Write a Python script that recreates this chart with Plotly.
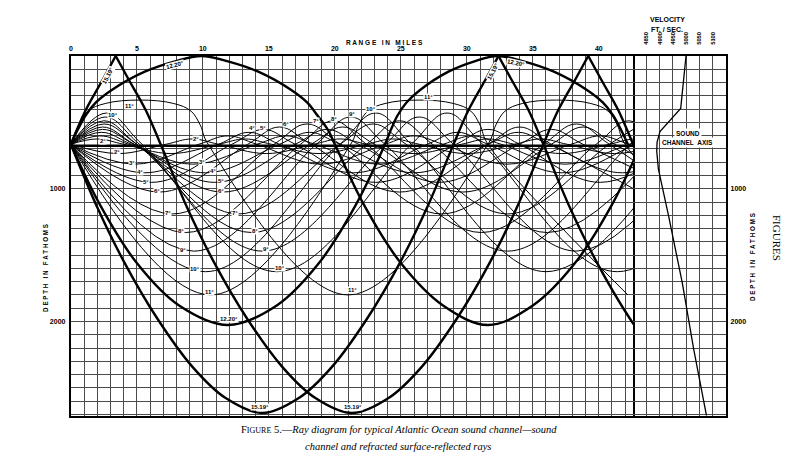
import plotly.graph_objects as go

# ---------------- data ----------------
source_depth = 665          # fathoms
axis_depth = 676            # sound channel axis (0 deg ray)
range_max = 42.6            # miles shown
depth_max = 2710            # fathoms shown

# velocity profile (right panel)
vel_depth = [0, 395, 570, 650, 720, 850, 1210, 1710, 2210, 2710]
vel_speed = [4999, 4979, 4901, 4890, 4889, 4895, 4934, 4985, 5028, 5076]

# refracted rays: turning points and axis crossings (range miles, depth fathoms)
r02_up_range = [0, 2.0, 4.0, 7.6, 11.2, 13.2, 15.2, 18.8, 22.4, 24.4, 26.4, 30.0, 33.6, 35.6, 37.6, 41.2, 44.8]
r02_up_depth = [665, 625, 665, 735, 665, 625, 665, 735, 665, 625, 665, 735, 665, 625, 665, 735, 665]
r02_dn_range = [0, 3.6, 7.2, 9.2, 11.2, 14.8, 18.4, 20.4, 22.4, 26.0, 29.6, 31.6, 33.6, 37.2, 40.8, 42.8, 44.8]
r02_dn_depth = [665, 735, 665, 625, 665, 735, 665, 625, 665, 735, 665, 625, 665, 735, 665, 625, 665]

r03_up_range = [0, 2.2, 4.4, 9.25, 14.1, 16.3, 18.5, 23.35, 28.2, 30.4, 32.6, 37.45, 42.3, 44.5]
r03_up_depth = [665, 602, 665, 815, 665, 602, 665, 815, 665, 602, 665, 815, 665, 602]
r03_dn_range = [0, 4.85, 9.7, 11.9, 14.1, 18.95, 23.8, 26.0, 28.2, 33.05, 37.9, 40.1, 42.3, 47.15]
r03_dn_depth = [665, 815, 665, 602, 665, 815, 665, 602, 665, 815, 665, 602, 665, 815]

r04_up_range = [0, 2.3, 4.6, 10.2, 15.8, 18.1, 20.4, 26.0, 31.6, 33.9, 36.2, 41.8, 47.4]
r04_up_depth = [665, 575, 665, 880, 665, 575, 665, 880, 665, 575, 665, 880, 665]
r04_dn_range = [0, 5.6, 11.2, 13.5, 15.8, 21.4, 27.0, 29.3, 31.6, 37.2, 42.8, 45.1]
r04_dn_depth = [665, 880, 665, 575, 665, 880, 665, 575, 665, 880, 665, 575]

r05_up_range = [0, 2.4, 4.8, 10.9, 17.0, 19.4, 21.8, 27.9, 34.0, 36.4, 38.8, 44.9]
r05_up_depth = [665, 553, 665, 952, 665, 553, 665, 952, 665, 553, 665, 952]
r05_dn_range = [0, 6.1, 12.2, 14.6, 17.0, 23.1, 29.2, 31.6, 34.0, 40.1, 46.2]
r05_dn_depth = [665, 952, 665, 553, 665, 952, 665, 553, 665, 952, 665]

r06_up_range = [0, 2.4, 4.8, 11.5, 18.2, 20.6, 23.0, 29.7, 36.4, 38.8, 41.2, 47.9]
r06_up_depth = [665, 535, 665, 1025, 665, 535, 665, 1025, 665, 535, 665, 1025]
r06_dn_range = [0, 6.7, 13.4, 15.8, 18.2, 24.9, 31.6, 34.0, 36.4, 43.1]
r06_dn_depth = [665, 1025, 665, 535, 665, 1025, 665, 535, 665, 1025]

r07_up_range = [0, 2.5, 5.0, 12.7, 20.4, 22.9, 25.4, 33.1, 40.8, 43.3]
r07_up_depth = [665, 512, 665, 1190, 665, 512, 665, 1190, 665, 512]
r07_dn_range = [0, 7.7, 15.4, 17.9, 20.4, 28.1, 35.8, 38.3, 40.8, 48.5]
r07_dn_depth = [665, 1190, 665, 512, 665, 1190, 665, 512, 665, 1190]

r08_up_range = [0, 2.5, 5.0, 13.7, 22.4, 24.9, 27.4, 36.1, 44.8]
r08_up_depth = [665, 488, 665, 1330, 665, 488, 665, 1330, 665]
r08_dn_range = [0, 8.7, 17.4, 19.9, 22.4, 31.1, 39.8, 42.3, 44.8]
r08_dn_depth = [665, 1330, 665, 488, 665, 1330, 665, 488, 665]

r09_up_range = [0, 2.6, 5.2, 14.5, 23.8, 26.4, 29.0, 38.3, 47.6]
r09_up_depth = [665, 460, 665, 1470, 665, 460, 665, 1470, 665]
r09_dn_range = [0, 9.3, 18.6, 21.2, 23.8, 33.1, 42.4, 45.0]
r09_dn_depth = [665, 1470, 665, 460, 665, 1470, 665, 460]

r10_up_range = [0, 2.7, 5.4, 15.6, 25.8, 28.5, 31.2, 41.4, 51.6]
r10_up_depth = [665, 430, 665, 1625, 665, 430, 665, 1625, 665]
r10_dn_range = [0, 10.2, 20.4, 23.1, 25.8, 36.0, 46.2]
r10_dn_depth = [665, 1625, 665, 430, 665, 1625, 665]

r11_up_range = [0, 0.6, 1.3, 2.6, 5.2, 7.8, 9.1, 9.8, 10.4, 21.0, 31.6, 32.2, 32.9, 34.2, 36.8, 39.4, 40.7, 41.4, 42.0, 52.6]
r11_up_depth = [665, 520, 415, 358, 332, 358, 415, 520, 665, 1800, 665, 520, 415, 358, 332, 358, 415, 520, 665, 1800]
r11_dn_range = [0, 10.6, 21.2, 21.8, 22.5, 23.8, 26.4, 29.0, 30.3, 31.0, 31.6, 42.2]
r11_dn_depth = [665, 1800, 665, 520, 415, 358, 332, 358, 415, 520, 665, 1800]

# limiting ray 12.20 deg (grazes the surface)
r1220_up_range = [0, 0.5, 1.1, 1.9, 3.1, 5.6, 7.9, 9.9, 11.9, 14.2, 16.7, 17.9, 18.7, 19.5, 20.0,
                  22.2, 25.0, 28.2, 31.6, 35.0, 38.2, 41.0, 43.2]
r1220_up_depth = [665, 560, 450, 350, 256, 118, 40, 0, 40, 118, 256, 350, 450, 560, 665,
                  1120, 1560, 1880, 2027, 1880, 1560, 1120, 665]
r1220_dn_range = [0, 2.2, 5.0, 8.2, 11.9, 15.6, 18.8, 21.6, 23.8, 24.23, 24.74, 25.43, 26.46, 28.61, 30.58,
                  32.3, 34.3, 36.6, 39.1, 40.3, 41.1, 41.7, 42.2]
r1220_dn_depth = [665, 1120, 1560, 1880, 2027, 1880, 1560, 1120, 665, 560, 450, 350, 256, 118, 40,
                  0, 40, 118, 256, 350, 450, 560, 665]

# surface-reflected ray 15.19 deg (segments between surface reflections)
r1519_up_a_range = [0, 1.13, 2.4, 3.4]
r1519_up_a_depth = [665, 407, 181, 0]
r1519_up_b_range = [3.4, 4.4, 5.67, 6.8, 8.8, 10.8, 13.3, 16.0, 18.5, 21.3, 24.1, 26.6, 29.3, 31.8, 33.8, 35.8, 36.93, 38.2, 39.2]
r1519_up_b_depth = [0, 181, 407, 665, 1140, 1545, 1970, 2340, 2575, 2690, 2575, 2340, 1970, 1545, 1140, 665, 407, 181, 0]
r1519_up_c_range = [39.2, 40.2, 41.47, 42.6, 44.6]
r1519_up_c_depth = [0, 181, 407, 665, 1140]
r1519_dn_a_range = [0, 2.0, 4.0, 6.5, 9.2, 11.7, 14.5, 17.3, 19.8, 22.5, 25.0, 27.0, 29.0, 30.13, 31.4, 32.4]
r1519_dn_a_depth = [665, 1140, 1545, 1970, 2340, 2575, 2690, 2575, 2340, 1970, 1545, 1140, 665, 407, 181, 0]
r1519_dn_b_range = [32.4, 33.4, 34.67, 35.8, 37.8, 39.8, 42.3, 45.0]
r1519_dn_b_depth = [0, 181, 407, 665, 1140, 1545, 1970, 2340]

# angle labels (text, range, depth)
label_text = ["3°", "4°", "5°", "6°", "7°", "8°", "9°", "10°", "11°",
              "3°", "4°", "5°", "6°", "7°", "8°", "9°", "10°", "11°",
              "2°", "2°", "2°", "4°", "5°", "6°", "7°", "8°", "9°", "10°", "11°", "10°", "11°"]
label_range = [4.6, 5.24, 5.67, 6.5, 7.38, 8.34, 8.52, 9.4, 10.53,
               9.9, 10.79, 11.41, 11.41, 12.42, 13.93, 14.81, 15.82, 21.37,
               2.47, 3.48, 9.52, 13.76, 14.59, 16.33, 18.6, 19.95, 21.29, 22.75, 27.06, 3.23, 4.48]
label_depth = [809, 876, 947, 1017, 1181, 1319, 1462, 1607, 1776,
               801, 867, 942, 1015, 1181, 1319, 1457, 1600, 1763,
               640, 721, 625, 545, 543, 512, 488, 475, 439, 399, 311, 445, 374]

thick_text = ["15.19°", "12.20°", "12.20°", "15.19°", "15.19°", "15.19°", "12.20°"]
thick_range = [2.85, 7.9, 12.0, 14.3, 21.4, 31.95, 33.7]
thick_depth = [145, 70, 1980, 2645, 2645, 118, 52]
thick_angle = [-62, -14, 0, 0, 0, -62, 12]

x_ticks_main = [0, 5, 10, 15, 20, 25, 30, 35, 40]
vel_ticks = [4850, 4900, 4950, 5000, 5050, 5100]

# ---------------- figure ----------------
# the page body adds an 8 px margin, so the figure is 784x460 placed at (8, 8)
W, H, OFF = 784, 460, 8
def fx(px):
    return (px - OFF) / W
def fy(py):
    return 1 - (py - OFF) / H

thin_rays = [
    (r02_up_range, r02_up_depth), (r02_dn_range, r02_dn_depth),
    (r03_up_range, r03_up_depth), (r03_dn_range, r03_dn_depth),
    (r04_up_range, r04_up_depth), (r04_dn_range, r04_dn_depth),
    (r05_up_range, r05_up_depth), (r05_dn_range, r05_dn_depth),
    (r06_up_range, r06_up_depth), (r06_dn_range, r06_dn_depth),
    (r07_up_range, r07_up_depth), (r07_dn_range, r07_dn_depth),
    (r08_up_range, r08_up_depth), (r08_dn_range, r08_dn_depth),
    (r09_up_range, r09_up_depth), (r09_dn_range, r09_dn_depth),
    (r10_up_range, r10_up_depth), (r10_dn_range, r10_dn_depth),
    (r11_up_range, r11_up_depth), (r11_dn_range, r11_dn_depth),
]
thick_rays = [
    (r1220_up_range, r1220_up_depth), (r1220_dn_range, r1220_dn_depth),
    (r1519_up_a_range, r1519_up_a_depth), (r1519_up_b_range, r1519_up_b_depth),
    (r1519_up_c_range, r1519_up_c_depth), (r1519_dn_a_range, r1519_dn_a_depth),
    (r1519_dn_b_range, r1519_dn_b_depth),
]

fig = go.Figure()
for xr, yd in thin_rays:
    fig.add_trace(go.Scatter(x=xr, y=yd, mode="lines", xaxis="x", yaxis="y",
                             line=dict(color="black", width=1.0, shape="spline", smoothing=1.1),
                             hoverinfo="skip"))
for xr, yd in thick_rays:
    fig.add_trace(go.Scatter(x=xr, y=yd, mode="lines", xaxis="x", yaxis="y",
                             line=dict(color="black", width=2.4, shape="spline", smoothing=1.0),
                             hoverinfo="skip"))
# sound channel axis (0 deg ray)
fig.add_trace(go.Scatter(x=[0, range_max], y=[axis_depth, axis_depth], mode="lines",
                         xaxis="x", yaxis="y", line=dict(color="black", width=2.6),
                         hoverinfo="skip"))
# velocity profile
fig.add_trace(go.Scatter(x=vel_speed, y=vel_depth, mode="lines", xaxis="x2", yaxis="y2",
                         line=dict(color="black", width=1.3), hoverinfo="skip"))

grid_col = "#4a4a4a"
lab_font = dict(family="Liberation Sans", size=7, color="black")

x_dom = [fx(69), fx(632.7)]
x2_dom = [fx(632.7), fx(726)]
y_dom = [fy(415.7), fy(56)]

fig.update_layout(
    width=W, height=H, margin=dict(l=0, r=0, t=0, b=0),
    paper_bgcolor="white", plot_bgcolor="white", showlegend=False,
    xaxis=dict(domain=x_dom, range=[0, range_max], anchor="y", side="top",
               tickmode="array", tickvals=x_ticks_main,
               ticktext=["<b>%d</b>" % v for v in x_ticks_main],
               ticks="", tickfont=lab_font, ticklabelstandoff=0,
               showgrid=True, gridcolor=grid_col, gridwidth=1,
               minor=dict(tickmode="linear", tick0=0, dtick=1, showgrid=True,
                          gridcolor=grid_col, gridwidth=1, ticks=""),
               showline=True, mirror=True, linecolor="black", linewidth=2,
               zeroline=False, fixedrange=True),
    yaxis=dict(domain=y_dom, range=[depth_max, 0], anchor="x",
               tickmode="array", tickvals=[1000, 2000],
               ticktext=["<b>1000</b>", "<b>2000</b>"],
               ticks="", tickfont=lab_font, ticklabelstandoff=2,
               showgrid=True, gridcolor=grid_col, gridwidth=1,
               minor=dict(tickmode="linear", tick0=0, dtick=100, showgrid=True,
                          gridcolor=grid_col, gridwidth=1, ticks=""),
               showline=True, mirror=True, linecolor="black", linewidth=2,
               zeroline=False, fixedrange=True),
    xaxis2=dict(domain=x2_dom, range=[4800, 5150], anchor="y2", side="top",
                tickmode="array", tickvals=vel_ticks,
                ticktext=["<b>%d</b>" % v for v in vel_ticks],
                tickangle=-90, ticks="",
                tickfont=dict(family="Liberation Sans", size=5.8, color="black"),
                ticklabelstandoff=8,
                showgrid=True, gridcolor=grid_col, gridwidth=1,
                showline=True, mirror=True, linecolor="black", linewidth=2,
                zeroline=False, fixedrange=True),
    yaxis2=dict(domain=y_dom, range=[depth_max, 0], anchor="x2", side="right",
                tickmode="array", tickvals=[1000, 2000],
                ticktext=["<b>1000</b>", "<b>2000</b>"],
                ticks="", tickfont=lab_font, ticklabelstandoff=1,
                showgrid=True, gridcolor=grid_col, gridwidth=1,
                minor=dict(tickmode="linear", tick0=0, dtick=100, showgrid=True,
                           gridcolor=grid_col, gridwidth=1, ticks=""),
                showline=True, mirror=False, linecolor="black", linewidth=2,
                zeroline=False, fixedrange=True),
)

ann = []
for t, r, d in zip(label_text, label_range, label_depth):
    ann.append(dict(x=r, y=d, xref="x", yref="y", text="<b>%s</b>" % t, showarrow=False,
                    font=dict(family="Liberation Sans", size=6, color="black"),
                    bgcolor="white", borderpad=0))
for t, r, d, a in zip(thick_text, thick_range, thick_depth, thick_angle):
    ann.append(dict(x=r, y=d, xref="x", yref="y", text="<b>%s</b>" % t, showarrow=False,
                    textangle=a, font=dict(family="Liberation Sans", size=6, color="black"),
                    bgcolor="white", borderpad=0))

def ptxt(text, px, py, size=7, angle=0, family="Liberation Sans", **kw):
    d = dict(x=fx(px), y=fy(py), xref="paper", yref="paper", text=text, showarrow=False,
             textangle=angle, font=dict(family=family, size=size, color="black"),
             xanchor="center", yanchor="middle")
    d.update(kw)
    ann.append(d)

depth_title = "<b>D E P T H &nbsp; I N &nbsp; F A T H O M S</b>"
ptxt("<b>R A N G E &nbsp; I N &nbsp; M I L E S</b>", 383, 42, size=6.5)
ptxt("<b>VELOCITY</b>", 667, 20, size=7)
ptxt("<b>FT. / SEC.</b>", 667, 30, size=7)
ptxt("<b>SOUND</b>", 688, 133, size=6.5, bgcolor="white")
ptxt("<b>CHANNEL &nbsp;AXIS</b>", 687, 142, size=6.5, bgcolor="white")
ptxt(depth_title, 43, 268, size=6.3, angle=-90)
ptxt(depth_title, 752, 257, size=6.3, angle=-90)
ptxt("FIGURES", 777, 238, size=11, angle=90, family="Liberation Serif")
ptxt("F<span style='font-size:8px'>IGURE</span> 5.—<i>Ray diagram for typical Atlantic Ocean sound channel—sound</i>",
     398, 429.5, size=10.5, family="Liberation Serif")
ptxt("<i>channel and refracted surface-reflected rays</i>", 397, 446, size=10.5,
     family="Liberation Serif")

fig.update_layout(annotations=ann)
fig.write_html("out.html")
